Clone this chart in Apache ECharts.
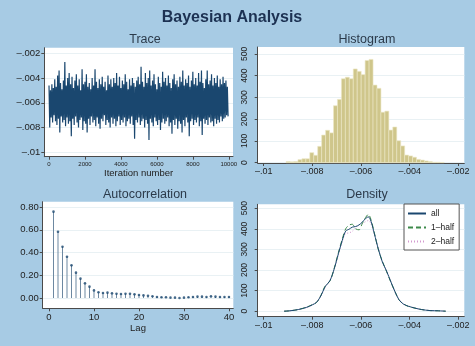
<!DOCTYPE html>
<html>
<head>
<meta charset="utf-8">
<script src="https://cdn.jsdelivr.net/npm/echarts@6/dist/echarts.min.js"></script>
<style>
html,body{margin:0;padding:0;background:#a7cbe4;}
#chart{width:475px;height:346px;}
</style>
</head>
<body>
<div id="chart"></div>
<script>
// ---------- DATA ----------
// Trace: per ~80 iterations, upper and lower extremes read from the trace band
const traceStep = 80;
const traceHigh = [-0.0046,-0.0050,-0.0045,-0.0048,-0.0041,-0.0047,-0.0038,-0.0034,-0.0044,-0.0049,
  -0.0042,-0.0027,-0.0046,-0.0040,-0.0036,-0.0045,-0.0039,-0.0048,-0.0042,-0.0037,
  -0.0046,-0.0041,-0.0050,-0.0033,-0.0045,-0.0043,-0.0037,-0.0047,-0.0044,-0.0049,
  -0.0040,-0.0046,-0.0033,-0.0043,-0.0048,-0.0041,-0.0045,-0.0039,-0.0047,-0.0043,
  -0.0050,-0.0038,-0.0045,-0.0041,-0.0047,-0.0040,-0.0044,-0.0036,-0.0046,-0.0039,
  -0.0048,-0.0042,-0.0045,-0.0037,-0.0043,-0.0049,-0.0041,-0.0046,-0.0040,-0.0044,
  -0.0047,-0.0042,-0.0039,-0.0045,-0.0031,-0.0043,-0.0047,-0.0036,-0.0044,-0.0040,
  -0.0034,-0.0046,-0.0042,-0.0037,-0.0045,-0.0049,-0.0039,-0.0044,-0.0047,-0.0035,
  -0.0043,-0.0040,-0.0046,-0.0038,-0.0044,-0.0048,-0.0041,-0.0037,-0.0045,-0.0042,
  -0.0047,-0.0039,-0.0043,-0.0034,-0.0046,-0.0041,-0.0044,-0.0038,-0.0047,-0.0042,
  -0.0035,-0.0045,-0.0040,-0.0046,-0.0036,-0.0043,-0.0034,-0.0044,-0.0048,-0.0041,
  -0.0034,-0.0045,-0.0042,-0.0037,-0.0046,-0.0040,-0.0044,-0.0038,-0.0047,-0.0041,
  -0.0045,-0.0039,-0.0044,-0.0042,-0.0047];
const traceLow = [-0.0080,-0.0072,-0.0076,-0.0070,-0.0075,-0.0078,-0.0073,-0.0084,-0.0071,-0.0076,
  -0.0074,-0.0079,-0.0072,-0.0077,-0.0075,-0.0087,-0.0073,-0.0078,-0.0071,-0.0076,
  -0.0080,-0.0074,-0.0072,-0.0082,-0.0075,-0.0077,-0.0084,-0.0073,-0.0078,-0.0071,
  -0.0076,-0.0074,-0.0079,-0.0072,-0.0077,-0.0081,-0.0073,-0.0075,-0.0070,-0.0078,
  -0.0074,-0.0076,-0.0080,-0.0072,-0.0077,-0.0073,-0.0079,-0.0075,-0.0071,-0.0078,
  -0.0074,-0.0076,-0.0072,-0.0079,-0.0075,-0.0073,-0.0077,-0.0071,-0.0078,-0.0089,
  -0.0074,-0.0076,-0.0072,-0.0078,-0.0075,-0.0073,-0.0080,-0.0074,-0.0077,-0.0090,
  -0.0073,-0.0076,-0.0079,-0.0072,-0.0075,-0.0078,-0.0074,-0.0082,-0.0076,-0.0073,
  -0.0077,-0.0075,-0.0072,-0.0079,-0.0076,-0.0085,-0.0074,-0.0078,-0.0073,-0.0081,
  -0.0075,-0.0077,-0.0084,-0.0074,-0.0079,-0.0072,-0.0076,-0.0087,-0.0075,-0.0073,
  -0.0078,-0.0074,-0.0076,-0.0072,-0.0079,-0.0075,-0.0086,-0.0073,-0.0077,-0.0074,
  -0.0078,-0.0072,-0.0076,-0.0075,-0.0079,-0.0073,-0.0077,-0.0074,-0.0076,-0.0071,
  -0.0075,-0.0073,-0.0072,-0.0070,-0.0071];
const traceXTicks = [0, 2000, 4000, 6000, 8000, 10000];
const traceYTicks = [-0.01, -0.008, -0.006, -0.004, -0.002];
const traceYLabels = ['\u2013.01', '\u2013.008', '\u2013.006', '\u2013.004', '\u2013.002'];

// Histogram: 40 bins (density scale)
const histBinStart = -0.00908;
const histBinWidth = 0.0001625;
const histCounts = [5,4,5,14,18,18,46,34,75,127,149,137,262,291,386,393,386,431,420,405,
  470,475,357,342,232,237,150,164,101,77,35,31,25,15,12,8,5,2,2,1];
const paramTicks = [-0.01, -0.008, -0.006, -0.004, -0.002];
const paramLabels = ['\u2013.01', '\u2013.008', '\u2013.006', '\u2013.004', '\u2013.002'];
const densYTicks = [0, 100, 200, 300, 400, 500];

// Autocorrelation
const acLags = [1,2,3,4,5,6,7,8,9,10,11,12,13,14,15,16,17,18,19,20,
  21,22,23,24,25,26,27,28,29,30,31,32,33,34,35,36,37,38,39,40];
const acValues = [0.759,0.583,0.451,0.363,0.287,0.223,0.170,0.129,0.100,0.067,
  0.050,0.044,0.047,0.041,0.038,0.035,0.038,0.038,0.032,0.026,
  0.023,0.020,0.015,0.009,0.006,0.006,0.003,0.003,0.000,0.003,
  0.006,0.009,0.012,0.012,0.009,0.015,0.012,0.009,0.009,0.009];
const acXTicks = [0, 10, 20, 30, 40];
const acYTicks = [0, 0.2, 0.4, 0.6, 0.8];

// Density
const densX = [-0.00916,-0.00892,-0.00858,-0.00823,-0.00800,-0.00782,-0.00764,-0.00748,-0.00727,-0.00710,
  -0.00693,-0.00677,-0.00663,-0.00649,-0.00636,-0.00622,-0.00608,-0.00595,-0.00581,-0.00570,
  -0.00559,-0.00545,-0.00529,-0.00512,-0.00495,-0.00477,-0.00460,-0.00444,-0.00426,-0.00405,
  -0.00378,-0.00351,-0.00316,-0.00282,-0.00252];
const densAll = [0,2,8,19,31,44,77,118,150,206,279,344,389,398,408,411,419,432,450,458,
  437,376,303,239,195,142,94,56,35,24,15,8,3,2,0];
const densHalf1 = [0,2,8,20,32,43,79,121,148,209,284,350,400,418,422,400,395,425,455,470,
  445,380,300,242,193,140,95,55,36,23,15,8,3,2,0];
const densHalf2 = [0,2,8,18,30,45,75,115,152,203,274,338,378,380,388,405,420,425,435,440,
  425,372,306,236,197,144,93,57,34,25,15,8,3,2,0];
const legendNames = ['all', '1\u2013half', '2\u2013half'];

// ---------- CHART ----------
const FONT = "'Liberation Sans', Arial, sans-serif";
const AX = '#4a4a4a';
const GRID = '#e9f1f4';
const TXT = '#222';

function fmt(ticks, labels) {
  return function (v) {
    for (let i = 0; i < ticks.length; i++) if (Math.abs(v - ticks[i]) < 1e-9) return labels[i];
    return '';
  };
}
function axisBase(extra) {
  return Object.assign({
    type: 'value',
    axisLine: { show: true, onZero: false, lineStyle: { color: AX, width: 1 } },
    axisTick: { show: true, inside: false, length: 3, lineStyle: { color: AX } },
    splitLine: { show: false },
    axisLabel: { color: TXT, fontFamily: FONT }
  }, extra);
}

const traceData = [];
for (let i = 0; i < traceHigh.length; i++) {
  traceData.push([i * traceStep, traceHigh[i]]);
  traceData.push([i * traceStep + traceStep / 2, traceLow[i]]);
}
const histData = histCounts.map((c, i) => [histBinStart + i * histBinWidth, histBinStart + (i + 1) * histBinWidth, c]);
const acData = acLags.map((l, i) => [l, acValues[i]]);
const dAll = densX.map((x, i) => [x, densAll[i]]);
const d1 = densX.map((x, i) => [x, densHalf1[i]]);
const d2 = densX.map((x, i) => [x, densHalf2[i]]);

const chart = echarts.init(document.getElementById('chart'), null, { renderer: 'canvas' });

const subStyle = { fontFamily: FONT, fontSize: 12.5, fontWeight: 'normal', color: '#2b3a4a' };

const option = {
  backgroundColor: '#a7cbe4',
  animation: false,
  title: [
    { text: 'Bayesian Analysis', left: 227, top: 5, textAlign: 'center', textStyle: { fontFamily: FONT, fontSize: 16, fontWeight: 'bold', color: '#1c3152' } },
    { text: 'Trace', left: 140, top: 28.5, textAlign: 'center', textStyle: subStyle },
    { text: 'Histogram', left: 362, top: 28.5, textAlign: 'center', textStyle: subStyle },
    { text: 'Autocorrelation', left: 140, top: 183, textAlign: 'center', textStyle: subStyle },
    { text: 'Density', left: 362, top: 183.5, textAlign: 'center', textStyle: subStyle }
  ],
  legend: {
    data: legendNames,
    orient: 'vertical',
    left: 404, top: 204,
    itemWidth: 18, itemHeight: 8, itemGap: 5,
    padding: [5, 5, 4, 3],
    backgroundColor: '#fff',
    borderColor: '#555', borderWidth: 1, borderRadius: 0,
    itemStyle: { opacity: 0 },
    textStyle: { fontFamily: FONT, fontSize: 8.5, color: TXT }
  },
  grid: [
    { left: 44.3, top: 47.7, width: 188.7, height: 109, show: true, backgroundColor: '#fff', borderWidth: 0 },
    { left: 257.7, top: 47, width: 206.6, height: 116, show: true, backgroundColor: '#fff', borderWidth: 0 },
    { left: 42.7, top: 201.7, width: 190.6, height: 106.6, show: true, backgroundColor: '#fff', borderWidth: 0 },
    { left: 257.7, top: 204.3, width: 206.6, height: 112.4, show: true, backgroundColor: '#fff', borderWidth: 0 }
  ],
  xAxis: [
    axisBase({ gridIndex: 0, min: -262, max: 10234,
      axisTick: { show: true, length: 3, lineStyle: { color: AX }, customValues: traceXTicks },
      axisLabel: { color: TXT, fontFamily: FONT, fontSize: 6, margin: 5, customValues: traceXTicks, formatter: v => String(Math.round(v)) },
      name: 'Iteration number', nameLocation: 'middle', nameGap: 10,
      nameTextStyle: { fontFamily: FONT, fontSize: 9.5, color: TXT } }),
    axisBase({ gridIndex: 1, min: -0.010247, max: -0.001753,
      axisTick: { show: true, length: 3, lineStyle: { color: AX }, customValues: paramTicks },
      axisLabel: { color: TXT, fontFamily: FONT, fontSize: 9, margin: 4, customValues: paramTicks, formatter: fmt(paramTicks, paramLabels) } }),
    axisBase({ gridIndex: 2, min: -1.40, max: 40.96,
      axisTick: { show: true, length: 3, lineStyle: { color: AX }, customValues: acXTicks },
      axisLabel: { color: TXT, fontFamily: FONT, fontSize: 9.5, margin: 4, customValues: acXTicks },
      name: 'Lag', nameLocation: 'middle', nameGap: 13.5,
      nameTextStyle: { fontFamily: FONT, fontSize: 9.5, color: TXT } }),
    axisBase({ gridIndex: 3, min: -0.010247, max: -0.001753,
      axisTick: { show: true, length: 3, lineStyle: { color: AX }, customValues: paramTicks },
      axisLabel: { color: TXT, fontFamily: FONT, fontSize: 9, margin: 4, customValues: paramTicks, formatter: fmt(paramTicks, paramLabels) } })
  ],
  yAxis: [
    axisBase({ gridIndex: 0, min: -0.01036, max: -0.00155,
      axisTick: { show: true, length: 3, lineStyle: { color: AX }, customValues: traceYTicks },
      axisLabel: { color: TXT, fontFamily: FONT, fontSize: 9.5, margin: 4, customValues: traceYTicks, formatter: fmt(traceYTicks, traceYLabels) },
      splitLine: { show: true, lineStyle: { color: GRID, width: 1 } } }),
    axisBase({ gridIndex: 1, min: -1.5, max: 532,
      axisTick: { show: true, length: 3, lineStyle: { color: AX }, customValues: densYTicks },
      axisLabel: { color: TXT, fontFamily: FONT, fontSize: 8.5, margin: 9, rotate: 90, customValues: densYTicks },
      splitLine: { show: true, lineStyle: { color: GRID, width: 1 } } }),
    axisBase({ gridIndex: 2, min: -0.0905, max: 0.8466,
      axisTick: { show: true, length: 3, lineStyle: { color: AX }, customValues: acYTicks },
      axisLabel: { color: TXT, fontFamily: FONT, fontSize: 9.5, margin: 4, customValues: acYTicks, formatter: v => v.toFixed(2) },
      splitLine: { show: true, lineStyle: { color: GRID, width: 1 } } }),
    axisBase({ gridIndex: 3, min: -26.7, max: 519,
      axisTick: { show: true, length: 3, lineStyle: { color: AX }, customValues: densYTicks },
      axisLabel: { color: TXT, fontFamily: FONT, fontSize: 8.5, margin: 9, rotate: 90, customValues: densYTicks },
      splitLine: { show: true, lineStyle: { color: GRID, width: 1 } } })
  ],
  series: [
    { type: 'line', xAxisIndex: 0, yAxisIndex: 0, data: traceData, symbol: 'none', sampling: null,
      lineStyle: { color: '#1a476f', width: 1.2 }, silent: true },
    { type: 'custom', xAxisIndex: 1, yAxisIndex: 1, data: histData, encode: { x: [0, 1], y: 2 },
      renderItem: function (params, api) {
        const p0 = api.coord([api.value(0), api.value(2)]);
        const p1 = api.coord([api.value(1), 0]);
        return { type: 'rect', shape: { x: p0[0], y: p0[1], width: p1[0] - p0[0], height: p1[1] - p0[1] },
          style: { fill: '#cfc68b', stroke: '#ece7c6', lineWidth: 0.6 } };
      } },
    { type: 'bar', xAxisIndex: 2, yAxisIndex: 2, data: acData, barWidth: 1,
      itemStyle: { color: '#6d88a1' }, silent: true },
    { type: 'scatter', xAxisIndex: 2, yAxisIndex: 2, data: acData, symbol: 'circle', symbolSize: 2.6,
      itemStyle: { color: '#1a476f' }, silent: true },
    { name: legendNames[0], type: 'line', xAxisIndex: 3, yAxisIndex: 3, data: dAll, symbol: 'none', smooth: 0.3,
      lineStyle: { color: '#1a476f', width: 1 }, itemStyle: { color: '#1a476f' }, z: 4 },
    { name: legendNames[1], type: 'line', xAxisIndex: 3, yAxisIndex: 3, data: d1, symbol: 'none', smooth: 0.3,
      lineStyle: { color: '#3d8a4a', width: 1, type: [5, 3] }, itemStyle: { color: '#3d8a4a' }, z: 3 },
    { name: legendNames[2], type: 'line', xAxisIndex: 3, yAxisIndex: 3, data: d2, symbol: 'none', smooth: 0.3,
      lineStyle: { color: '#d49ad0', width: 1, type: [1, 2] }, itemStyle: { color: '#d49ad0' }, z: 2 }
  ]
};
chart.setOption(option);
</script>
</body>
</html>
